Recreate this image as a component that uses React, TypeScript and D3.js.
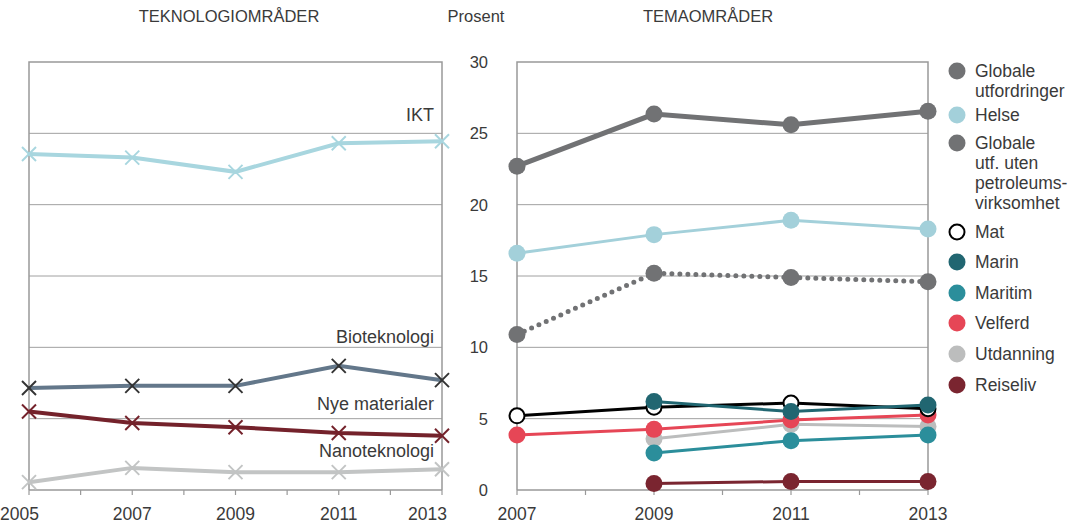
import React from 'react';
import * as d3 from 'd3';

// Venstre panel: teknologiområder
const techYears = [2005, 2007, 2009, 2011, 2013];
const ikt = [23.55, 23.3, 22.3, 24.3, 24.45];
const bioteknologi = [7.15, 7.3, 7.3, 8.7, 7.7];
const nyeMaterialer = [5.5, 4.7, 4.4, 4.0, 3.8];
const nanoteknologi = [0.55, 1.55, 1.25, 1.25, 1.45];

// Høyre panel: temaområder (null = ingen verdi)
const themeYears = [2007, 2009, 2011, 2013];
const globale = [22.7, 26.35, 25.6, 26.55];
const helse = [16.6, 17.9, 18.9, 18.3];
const globaleUtenPetro = [10.9, 15.2, 14.9, 14.6];
const mat = [5.2, 5.8, 6.1, 5.7];
const marin = [null, 6.2, 5.5, 5.95];
const maritim = [null, 2.6, 3.45, 3.85];
const velferd = [3.85, 4.25, 4.9, 5.25];
const utdanning = [null, 3.6, 4.6, 4.45];
const reiseliv = [null, 0.45, 0.6, 0.6];

const yTicks = [0, 5, 10, 15, 20, 25, 30];

const FONT = '"Liberation Sans", Arial, sans-serif';
const TXT = '#3a3a3a';

const y = d3.scaleLinear().domain([0, 30]).range([490, 62]);
const xL = d3.scaleLinear().domain([2005, 2013]).range([29, 442]);
const xR = d3.scaleLinear().domain([2007, 2013]).range([517, 928]);

type TechSeries = { name: string; values: number[]; line: string; mark: string; labelY: number };
const techSeries: TechSeries[] = [
  { name: 'Nanoteknologi', values: nanoteknologi, line: '#c2c4c4', mark: '#c2c4c4', labelY: 457 },
  { name: 'Nye materialer', values: nyeMaterialer, line: '#74222b', mark: '#74222b', labelY: 410 },
  { name: 'Bioteknologi', values: bioteknologi, line: '#63778a', mark: '#333333', labelY: 343 },
  { name: 'IKT', values: ikt, line: '#a8d6df', mark: '#a8d6df', labelY: 121 },
];

type ThemeSeries = {
  name: string[];
  values: (number | null)[];
  color: string;
  width: number;
  dotted?: boolean;
  hollow?: boolean;
  legendY: number;
};
const themeSeries: ThemeSeries[] = [
  { name: ['Globale', 'utfordringer'], values: globale, color: '#717274', width: 5, legendY: 71 },
  { name: ['Helse'], values: helse, color: '#a3d0da', width: 3, legendY: 115 },
  { name: ['Globale', 'utf. uten', 'petroleums-', 'virksomhet'], values: globaleUtenPetro, color: '#717274', width: 5, dotted: true, legendY: 143 },
  { name: ['Reiseliv'], values: reiseliv, color: '#7a2530', width: 3, legendY: 385 },
  { name: ['Utdanning'], values: utdanning, color: '#bcbdbd', width: 3, legendY: 354 },
  { name: ['Velferd'], values: velferd, color: '#e64656', width: 3, legendY: 323 },
  { name: ['Maritim'], values: maritim, color: '#2b8e9b', width: 3, legendY: 293 },
  { name: ['Mat'], values: mat, color: '#000000', width: 3, hollow: true, legendY: 232 },
  { name: ['Marin'], values: marin, color: '#216671', width: 3, legendY: 262 },
];

function Cross({ cx, cy, color }: { cx: number; cy: number; color: string }) {
  const s = 7;
  return (
    <g stroke={color} strokeWidth={2}>
      <line x1={cx - s} y1={cy - s} x2={cx + s} y2={cy + s} />
      <line x1={cx - s} y1={cy + s} x2={cx + s} y2={cy - s} />
    </g>
  );
}

export default function App() {
  const lineL = d3.line<number>().x((_, i) => xL(techYears[i])).y((d) => y(d));
  const lineR = d3
    .line<number | null>()
    .defined((d) => d != null)
    .x((_, i) => xR(themeYears[i]))
    .y((d) => y(d as number));

  const leftMinor = d3.range(2005, 2014, 1);
  const rightMinor = d3.range(2007, 2014, 1);
  const last = techYears.length - 1;

  return (
    <svg width={1071} height={524} style={{ position: 'absolute', left: 0, top: 0 }} fontFamily={FONT}>
      {/* titler */}
      <text x={229} y={22} textAnchor="middle" fontSize={16.5} fill={TXT}>TEKNOLOGIOMRÅDER</text>
      <text x={476} y={22} textAnchor="middle" fontSize={16.5} fill={TXT}>Prosent</text>
      <text x={708} y={22} textAnchor="middle" fontSize={16.5} fill={TXT}>TEMAOMRÅDER</text>

      {/* venstre panel */}
      <g>
        {yTicks.slice(1, -1).map((t) => (
          <line key={t} x1={xL(2005)} x2={xL(2013)} y1={y(t)} y2={y(t)} stroke="#a0a0a0" strokeWidth={1} />
        ))}
        <path
          d={`M${xL(2005)},${y(0)}V${y(30)}H${xL(2013)}V${y(0)}`}
          fill="none"
          stroke="#999999"
          strokeWidth={1.5}
        />
        <line x1={xL(2005)} x2={xL(2013)} y1={y(0)} y2={y(0)} stroke="#999999" strokeWidth={1.5} />
        {leftMinor.map((yr) => (
          <line key={yr} x1={xL(yr)} x2={xL(yr)} y1={y(0)} y2={y(0) + 5} stroke="#999999" strokeWidth={1.2} />
        ))}
        {techYears.map((yr, i) => (
          <text
            key={yr}
            x={i === 0 ? 0 : i === last ? 447 : xL(yr)}
            y={520}
            textAnchor={i === 0 ? 'start' : i === last ? 'end' : 'middle'}
            fontSize={17.5}
            fill={TXT}
          >
            {yr}
          </text>
        ))}
        {techSeries.map((s) => (
          <g key={s.name}>
            <path d={lineL(s.values) || ''} fill="none" stroke={s.line} strokeWidth={4} />
            {s.values.map((v, i) => (
              <Cross key={i} cx={xL(techYears[i])} cy={y(v)} color={s.mark} />
            ))}
            <text x={434} y={s.labelY} textAnchor="end" fontSize={18} fill={TXT}>{s.name}</text>
          </g>
        ))}
      </g>

      {/* høyre panel */}
      <g>
        {yTicks.slice(1, -1).map((t) => (
          <line key={t} x1={xR(2007)} x2={xR(2013)} y1={y(t)} y2={y(t)} stroke="#a0a0a0" strokeWidth={1} />
        ))}
        <path
          d={`M${xR(2007)},${y(0)}V${y(30)}H${xR(2013)}V${y(0)}`}
          fill="none"
          stroke="#999999"
          strokeWidth={1.5}
        />
        <line x1={xR(2007)} x2={xR(2013)} y1={y(0)} y2={y(0)} stroke="#999999" strokeWidth={1.5} />
        {rightMinor.map((yr) => (
          <line key={yr} x1={xR(yr)} x2={xR(yr)} y1={y(0)} y2={y(0) + 5} stroke="#999999" strokeWidth={1.2} />
        ))}
        {yTicks.map((t) => (
          <text key={t} x={488} y={y(t) + 6} textAnchor="end" fontSize={16.5} fill={TXT}>{t}</text>
        ))}
        {themeYears.map((yr) => (
          <text key={yr} x={xR(yr)} y={520} textAnchor="middle" fontSize={17.5} fill={TXT}>{yr}</text>
        ))}
        {themeSeries.map((s, k) => (
          <g key={k}>
            <path
              d={lineR(s.values) || ''}
              fill="none"
              stroke={s.color}
              strokeWidth={s.width}
              strokeDasharray={s.dotted ? '0 8' : undefined}
              strokeLinecap={s.dotted ? 'round' : 'butt'}
            />
            {s.values.map((v, i) =>
              v == null ? null : (
                <circle
                  key={i}
                  cx={xR(themeYears[i])}
                  cy={y(v)}
                  r={s.hollow ? 7.5 : 8.5}
                  fill={s.hollow ? '#ffffff' : s.color}
                  stroke={s.hollow ? '#000000' : 'none'}
                  strokeWidth={2}
                />
              )
            )}
          </g>
        ))}
      </g>

      {/* tegnforklaring */}
      <g>
        {themeSeries.map((s, k) => (
          <g key={k}>
            <circle
              cx={957}
              cy={s.legendY}
              r={s.hollow ? 7.5 : 8.5}
              fill={s.hollow ? '#ffffff' : s.color}
              stroke={s.hollow ? '#000000' : 'none'}
              strokeWidth={2}
            />
            {s.name.map((ln, j) => (
              <text key={j} x={975} y={s.legendY + 6 + j * 20} fontSize={17.5} fill={TXT}>{ln}</text>
            ))}
          </g>
        ))}
      </g>
    </svg>
  );
}
